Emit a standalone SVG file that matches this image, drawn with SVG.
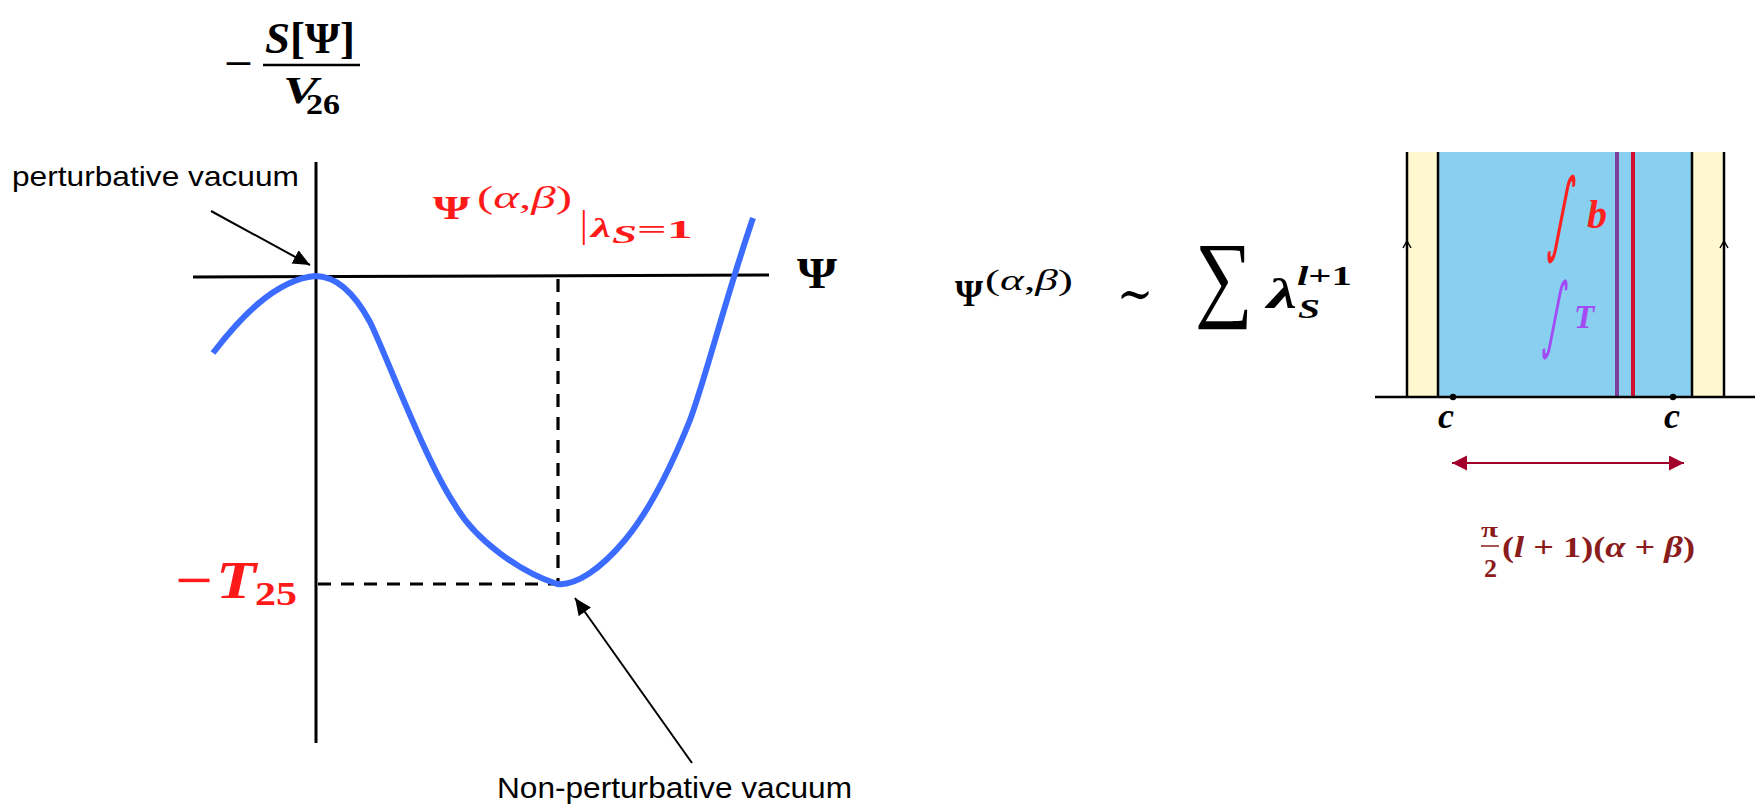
<svg xmlns="http://www.w3.org/2000/svg" width="1757" height="807" viewBox="0 0 1757 807">
<style>
.sans{font-family:"Liberation Sans",Arial,sans-serif;fill:#000}
.m{font-family:"Liberation Serif","DejaVu Serif",serif}
.int{font-family:"DejaVu Sans",sans-serif}
.bi{font-weight:bold;font-style:italic}
.b{font-weight:bold}
.i{font-style:italic}
.red{fill:#ff1a1a}
.axis{stroke:#000;stroke-width:3;fill:none}
.dash{stroke:#000;stroke-width:3.2;stroke-dasharray:13 10;fill:none}
.conn{stroke:#000;stroke-width:2;fill:none}
.blk{stroke:#000;stroke-width:2.5;fill:none}
.dr{fill:#8b1c1c}
</style>
<defs>
<marker id="ah" markerUnits="userSpaceOnUse" markerWidth="18" markerHeight="16" refX="17" refY="7.5" orient="auto">
<path d="M0,0 L17,7.5 L0,15 z" fill="#000"/>
</marker>
<marker id="ahr" markerUnits="userSpaceOnUse" markerWidth="16" markerHeight="16" refX="15" refY="7.5" orient="auto-start-reverse">
<path d="M0,0 L15,7.5 L0,15 z" fill="#a0002a"/>
</marker>
</defs>
<rect width="1757" height="807" fill="#fff"/>

<g id="axes">
<line class="axis" x1="316" y1="162" x2="316" y2="743"/>
<line class="axis" x1="193" y1="277" x2="769" y2="275"/>
<line class="dash" x1="558" y1="279" x2="558" y2="584"/>
<line class="dash" x1="318" y1="584" x2="558" y2="584"/>
</g>

<g id="curve">
<path d="M213,353 C240,318 275,280 315,276 C338,276 356,296 370,322 C385,352 425,460 455,505 C475,540 520,572 557,584 C575,586 600,570 625,540 C650,510 670,470 690,420 C705,380 725,300 753,218" fill="none" stroke="#3b6cff" stroke-width="6"/>
</g>

<g id="y-label">
<text class="m b" x="224" y="77" font-size="40" textLength="29" lengthAdjust="spacingAndGlyphs">−</text>
<line x1="263" y1="65" x2="360" y2="65" stroke="#000" stroke-width="2.5"/>
<text class="m" x="265" y="53" font-size="44" textLength="90" lengthAdjust="spacingAndGlyphs"><tspan class="bi">S</tspan><tspan class="b">[Ψ]</tspan></text>
<text class="m bi" x="283" y="103" font-size="37" textLength="35" lengthAdjust="spacingAndGlyphs">V</text>
<text class="m b" x="306" y="114" font-size="29" textLength="34" lengthAdjust="spacingAndGlyphs">26</text>
</g>

<g id="x-label">
<text class="m b" x="797" y="288" font-size="44" textLength="40" lengthAdjust="spacingAndGlyphs">Ψ</text>
</g>

<g id="solution-label" class="red">
<text class="m b" x="433" y="219" font-size="34" textLength="37" lengthAdjust="spacingAndGlyphs">Ψ</text>
<text class="m" x="477" y="208" font-size="32" textLength="95" lengthAdjust="spacingAndGlyphs">(<tspan class="i">α</tspan>,<tspan class="i">β</tspan>)</text>
<text class="m" x="580" y="237" font-size="38">|</text>
<text class="m bi" x="591" y="237" font-size="27" textLength="20" lengthAdjust="spacingAndGlyphs">λ</text>
<text class="m bi" x="612" y="243" font-size="25" textLength="25" lengthAdjust="spacingAndGlyphs">S</text>
<text class="m b" x="637" y="238" font-size="26" textLength="56" lengthAdjust="spacingAndGlyphs">=1</text>
</g>

<g id="tension-label" class="red">
<text class="m b" x="175" y="597" font-size="50" textLength="38" lengthAdjust="spacingAndGlyphs">−</text>
<text class="m bi" x="216" y="598" font-size="52" textLength="40" lengthAdjust="spacingAndGlyphs">T</text>
<text class="m b" x="255" y="605" font-size="34" textLength="42" lengthAdjust="spacingAndGlyphs">25</text>
</g>

<g id="perturbative-vacuum">
<text class="sans" x="12" y="186" font-size="28" textLength="287" lengthAdjust="spacingAndGlyphs">perturbative vacuum</text>
</g>

<g id="non-perturbative-vacuum">
<text class="sans" x="497" y="798" font-size="29" textLength="355" lengthAdjust="spacingAndGlyphs">Non-perturbative vacuum</text>
</g>

<g id="connectors">
<line class="conn" x1="211" y1="211" x2="310" y2="265" marker-end="url(#ah)"/>
<line class="conn" x1="692" y1="763" x2="575" y2="598" marker-end="url(#ah)"/>
<line x1="1452" y1="463" x2="1684" y2="463" stroke="#a0002a" stroke-width="2" marker-start="url(#ahr)" marker-end="url(#ahr)"/>
</g>

<g id="expansion">
<text class="m b" x="955" y="306" font-size="38" textLength="28" lengthAdjust="spacingAndGlyphs">Ψ</text>
<text class="m" x="985" y="290" font-size="30" textLength="88" lengthAdjust="spacingAndGlyphs">(<tspan class="i">α</tspan>,<tspan class="i">β</tspan>)</text>
<text class="m" x="1117" y="312" font-size="54" textLength="36" lengthAdjust="spacingAndGlyphs">∼</text>
<text class="m" x="1195" y="309" font-size="96" textLength="58" lengthAdjust="spacingAndGlyphs">∑</text>
<text class="m bi" x="1267" y="308" font-size="42" textLength="30" lengthAdjust="spacingAndGlyphs">λ</text>
<text class="m bi" x="1298" y="318" font-size="28" textLength="22" lengthAdjust="spacingAndGlyphs">S</text>
<text class="m b" x="1297" y="285" font-size="28" textLength="55" lengthAdjust="spacingAndGlyphs"><tspan class="i">l</tspan>+1</text>
</g>

<g id="strip">
<rect x="1407" y="152" width="317" height="245" fill="#fdf8d0"/>
<rect x="1438" y="152" width="254" height="245" fill="#89cff0"/>
<line class="blk" x1="1407" y1="152" x2="1407" y2="397"/>
<line class="blk" x1="1438" y1="152" x2="1438" y2="397"/>
<line class="blk" x1="1692" y1="152" x2="1692" y2="397"/>
<line class="blk" x1="1724" y1="152" x2="1724" y2="397"/>
<line x1="1617" y1="152" x2="1617" y2="397" stroke="#7b3f9b" stroke-width="4"/>
<line x1="1633" y1="152" x2="1633" y2="397" stroke="#d01030" stroke-width="4"/>
<line class="blk" x1="1375" y1="397" x2="1755" y2="397"/>
<path d="M1403,248 L1407,241 L1411,248" fill="none" stroke="#000" stroke-width="1.5"/>
<path d="M1720,248 L1724,241 L1728,248" fill="none" stroke="#000" stroke-width="1.5"/>
<circle cx="1453" cy="397" r="3.2" fill="#000"/>
<circle cx="1673" cy="397" r="3.2" fill="#000"/>
<text class="m bi" x="1446" y="428" font-size="36" text-anchor="middle">c</text>
<text class="m bi" x="1672" y="428" font-size="36" text-anchor="middle">c</text>
<text class="int" transform="translate(1547,244) skewX(-10)" x="0" y="0" font-size="92" fill="#ff2020" textLength="20" lengthAdjust="spacingAndGlyphs">∫</text>
<text class="m bi" x="1587" y="228" font-size="40" fill="#ff2020">b</text>
<text class="int" transform="translate(1542,342) skewX(-10)" x="0" y="0" font-size="83" fill="#a24bf5" textLength="18" lengthAdjust="spacingAndGlyphs">∫</text>
<text class="m bi" x="1574" y="328" font-size="33" fill="#a24bf5">T</text>
</g>

<g id="width-label" class="dr">
<text class="m b" x="1481" y="537" font-size="20" textLength="17" lengthAdjust="spacingAndGlyphs">π</text>
<line x1="1481" y1="546" x2="1499" y2="546" stroke="#8b1c1c" stroke-width="1.5"/>
<text class="m b" x="1484" y="577" font-size="26">2</text>
<text class="m b" x="1502" y="557" font-size="30" textLength="193" lengthAdjust="spacingAndGlyphs">(<tspan class="i">l</tspan> + 1)(<tspan class="i">α</tspan> + <tspan class="i">β</tspan>)</text>
</g>
</svg>
